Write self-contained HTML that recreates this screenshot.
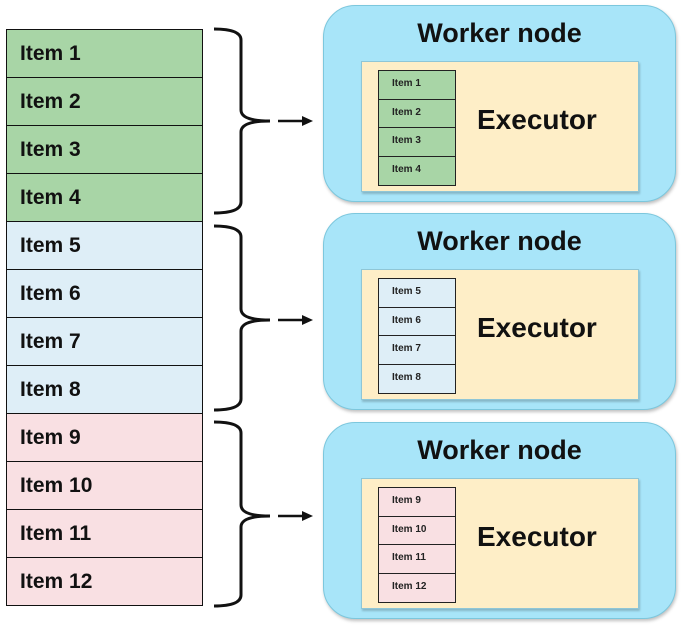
<!DOCTYPE html>
<html><head><style>
body{margin:0;width:687px;height:625px;background:#fff;position:relative;overflow:hidden;font-family:"Liberation Sans",sans-serif}
.r{position:absolute;left:6px;width:197px;height:49px;border:1.5px solid #111;box-sizing:border-box;font-size:21px;font-weight:bold;color:#111;padding-left:13px;line-height:47px}
.g{background:#a8d5a6}.b{background:#deeef7}.p{background:#f9e0e3}
.w{position:absolute;left:323px;width:353px;height:197px;border-radius:32px;background:#a8e5f9;border:1.5px solid #7cc7dd;box-sizing:border-box;box-shadow:1px 2px 3px rgba(0,0,0,.25)}
.w .t{position:absolute;left:0;right:0;top:12px;text-align:center;font-size:27px;font-weight:bold;color:#111}
.e{position:absolute;left:37px;top:55px;width:278px;height:131px;background:#feeec7;border:1px solid #8fc6d6;box-sizing:border-box;box-shadow:1px 2px 2px rgba(0,0,0,.2)}
.e .x{position:absolute;left:115px;top:42px;font-size:28px;font-weight:bold;color:#111}
.s{position:absolute;left:16px;top:9px;width:78px}
.s div{height:29.7px;border:1.5px solid #222;box-sizing:border-box;margin-top:-1px;font-size:10px;font-weight:bold;padding-left:13px;line-height:26px;color:#222}
</style></head><body>
<div class="r g" style="top:29px">Item 1</div>
<div class="r g" style="top:77px">Item 2</div>
<div class="r g" style="top:125px">Item 3</div>
<div class="r g" style="top:173px">Item 4</div>
<div class="r b" style="top:221px">Item 5</div>
<div class="r b" style="top:269px">Item 6</div>
<div class="r b" style="top:317px">Item 7</div>
<div class="r b" style="top:365px">Item 8</div>
<div class="r p" style="top:413px">Item 9</div>
<div class="r p" style="top:461px">Item 10</div>
<div class="r p" style="top:509px">Item 11</div>
<div class="r p" style="top:557px">Item 12</div>
<svg width="687" height="625" style="position:absolute;left:0;top:0">
<g fill="none" stroke="#111" stroke-width="3">
<path d="M214,29 Q241,29 241,40 L241,110 Q241,121 270,121 Q241,121 241,132 L241,202 Q241,213 214,213"/>
<path d="M214,226 Q241,226 241,237 L241,309 Q241,320 270,320 Q241,320 241,331 L241,399 Q241,410 214,410"/>
<path d="M214,422 Q241,422 241,433 L241,505 Q241,516 270,516 Q241,516 241,527 L241,595 Q241,606 214,606"/>
<path d="M278,121 H303 M278,320 H303 M278,516 H303" stroke-width="2.5"/>
</g>
<g fill="#111"><path d="M313,121 L302,116 L302,126Z"/><path d="M313,320 L302,315 L302,325Z"/><path d="M313,516 L302,511 L302,521Z"/></g>
</svg>
<div class="w" style="top:5px"><div class="t">Worker node</div><div class="e"><div class="s">
<div class="g">Item 1</div><div class="g">Item 2</div><div class="g">Item 3</div><div class="g">Item 4</div></div><div class="x">Executor</div></div></div>
<div class="w" style="top:213px"><div class="t">Worker node</div><div class="e"><div class="s">
<div class="b">Item 5</div><div class="b">Item 6</div><div class="b">Item 7</div><div class="b">Item 8</div></div><div class="x">Executor</div></div></div>
<div class="w" style="top:422px"><div class="t">Worker node</div><div class="e"><div class="s">
<div class="p">Item 9</div><div class="p">Item 10</div><div class="p">Item 11</div><div class="p">Item 12</div></div><div class="x">Executor</div></div></div>
</body></html>
